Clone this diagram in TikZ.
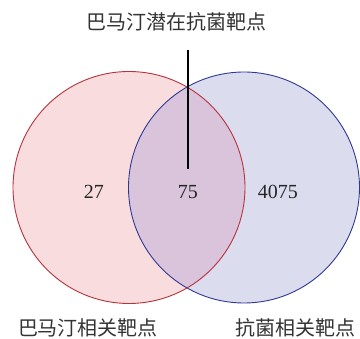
\documentclass[tikz,border=0pt]{standalone}
\usepackage{fontspec}
\setmainfont{Liberation Serif}
\newfontfamily\cjk{Noto Sans CJK SC}[Scale=1]
\definecolor{lfill}{HTML}{F9DCDE}
\definecolor{rfill}{HTML}{DBDCEE}
\definecolor{ofill}{HTML}{DAC4DC}
\definecolor{lline}{HTML}{B8323C}
\definecolor{rline}{HTML}{2E3A92}
\begin{document}
\begin{tikzpicture}[x=1pt,y=-1pt,
  lbl/.style={font=\cjk\fontsize{20}{22}\selectfont, text=black!80, inner sep=0pt},
  num/.style={font=\fontsize{20}{22}\selectfont, text=black!85, inner sep=0pt}]
\useasboundingbox (0,0) rectangle (360,339);
\fill[lfill] (129,187.5) circle (116);
\fill[rfill] (244,187.5) circle (115.5);
\begin{scope}
  \clip (129,187.5) circle (116);
  \fill[ofill] (244,187.5) circle (115.5);
\end{scope}
\draw[lline, line width=0.9pt] (129,187.5) circle (116);
\draw[rline, line width=0.9pt] (244,187.5) circle (115.5);
\node[lbl] (title) at (177,22) {巴马汀潜在抗菌靶点};
\coordinate (top) at (188,50);
\coordinate (bot) at (188,169);
\draw[line width=2pt] (top) -- (bot);
\node[num] (n1) at (94,192) {27};
\node[num] (n2) at (188,192) {75};
\node[num] (n3) at (278,192) {4075};
\node[lbl] (l1) at (88,328) {巴马汀相关靶点};
\node[lbl] (l2) at (296,328) {抗菌相关靶点};
\end{tikzpicture}
\end{document}
